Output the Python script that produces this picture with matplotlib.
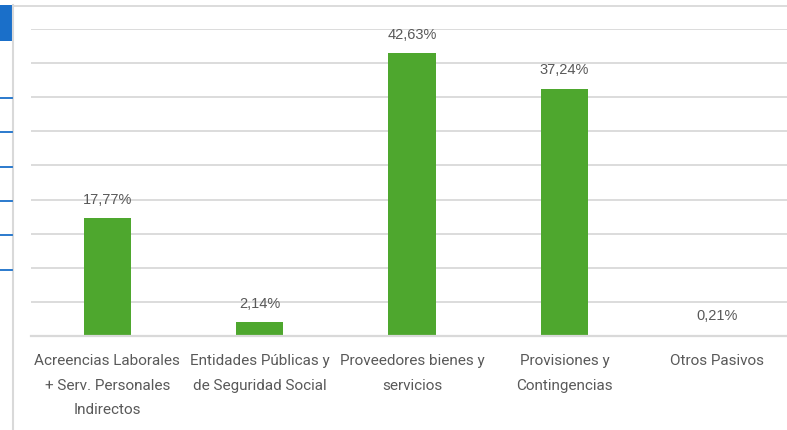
import matplotlib
matplotlib.use("Agg")
import matplotlib.pyplot as plt
from matplotlib.patches import Rectangle
from matplotlib.lines import Line2D

categories = ["Acreencias Laborales\n+ Serv. Personales\nIndirectos",
              "Entidades Públicas y\nde Seguridad Social",
              "Proveedores bienes y\nservicios",
              "Provisiones y\nContingencias",
              "Otros Pasivos"]
values = [17.77, 2.14, 42.63, 37.24, 0.21]
labels = ["17,77%", "2,14%", "42,63%", "37,24%", "0,21%"]

W, H = 787, 430
fig = plt.figure(figsize=(W / 100, H / 100), dpi=100)
fig.patch.set_facecolor("white")

# axes: x 31..793 px, y 29..336 px (from top)
ax = fig.add_axes([31 / W, (H - 336) / H, 762 / W, 307 / H])
ymax = 46.2
x = list(range(len(values)))
ax.bar(x, values, width=0.31, color="#4EA72E", zorder=3)
ax.set_xlim(-0.5, len(values) - 0.5)
ax.set_ylim(0, ymax)
ticks = [ymax * i / 9 for i in range(10)]
ax.set_yticks(ticks)
ax.yaxis.grid(True, color="#D9D9D9", linewidth=1.3, zorder=0)
ax.tick_params(axis="y", left=False, labelleft=False)
ax.tick_params(axis="x", bottom=False, pad=9.5)
ax.set_xticks(x)
ax.set_xticklabels(categories, fontsize=11, color="#595959",
                   family=["Roboto", "DejaVu Sans"], linespacing=1.97)
for s in ["top", "right", "left"]:
    ax.spines[s].set_visible(False)
ax.spines["bottom"].set_color("#D9D9D9")
ax.spines["bottom"].set_linewidth(1.6)
ax.spines["bottom"].set_zorder(4)

for xi, v, lab in zip(x, values, labels):
    ax.annotate(lab, (xi, v), xytext=(0, 8), textcoords="offset points",
                ha="center", va="bottom", fontsize=10.5, color="#595959",
                family=["Liberation Sans", "DejaVu Sans"])

# frame decorations at left/top (cropped UI)
fig.add_artist(Rectangle((0, 1 - 41 / H), 12 / W, 36 / H, transform=fig.transFigure,
                         facecolor="#1A6FC9", edgecolor="none"))
fig.add_artist(Line2D([12.5 / W, 12.5 / W], [0, 1 - 5 / H], transform=fig.transFigure,
                      color="#D9D9D9", linewidth=1.5))
fig.add_artist(Line2D([12.5 / W, 1], [1 - 6 / H, 1 - 6 / H], transform=fig.transFigure,
                      color="#D9D9D9", linewidth=1.3))
for yp in [98, 132, 167, 201, 235, 270]:
    fig.add_artist(Line2D([0, 12 / W], [1 - yp / H, 1 - yp / H], transform=fig.transFigure,
                          color="#1A6FC9", linewidth=1.3))

fig.savefig("out.png", dpi=100)
